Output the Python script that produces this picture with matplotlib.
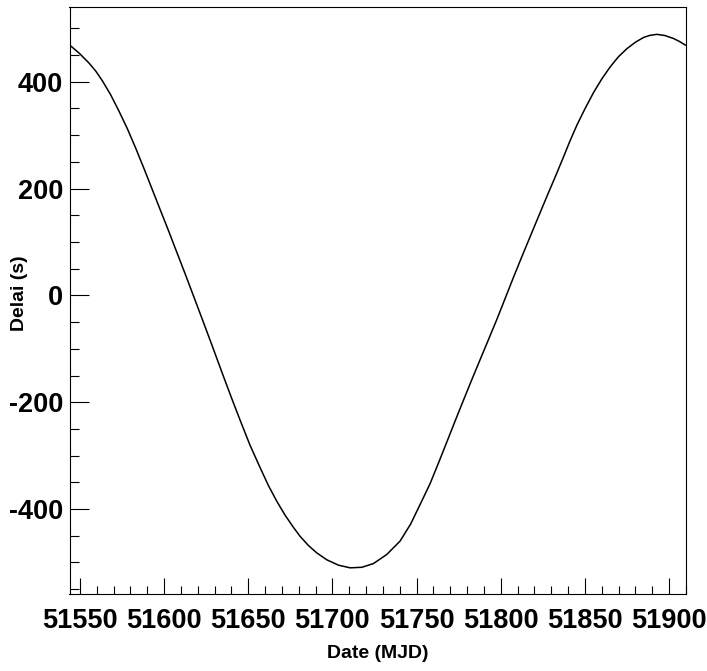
import numpy as np
import matplotlib
matplotlib.use("Agg")
import matplotlib.pyplot as plt
from matplotlib.ticker import MultipleLocator

# points (date in MJD, delay in s)
mjd = [51543.8, 51549.4, 51555.4, 51559.4, 51563.3, 51568.2, 51573.2, 51578.2,
       51583.1, 51588.0, 51593.0, 51598.0, 51602.9, 51607.9, 51612.8, 51617.6,
       51622.5, 51628.9, 51635.2, 51640.2, 51645.1, 51651.0, 51657.0, 51662.0,
       51666.9, 51671.8, 51676.8, 51680.8, 51685.7, 51690.7, 51696.7, 51703.6,
       51710.5, 51717.5, 51724.4, 51732.3, 51740.2, 51746.5, 51753.1, 51758.1,
       51763.0, 51767.8, 51772.8, 51777.9, 51782.8, 51787.8, 51792.7, 51797.7,
       51802.6, 51807.6, 51812.5, 51817.5, 51822.5, 51827.4, 51832.4, 51837.3,
       51841.0, 51845.3, 51850.0, 51855.2, 51860.0, 51865.1, 51870.0, 51875.0,
       51880.0, 51884.9, 51888.8, 51892.8, 51897.7, 51902.7, 51906.2, 51909.7]
delai = [469, 454, 435, 420, 402, 376, 345, 312,
         276, 238, 198, 158, 119, 78, 38, -2,
         -43, -97, -151, -193, -233, -280, -322, -356,
         -385, -411, -434, -451, -468, -482, -495, -505,
         -510, -509, -502, -485, -460, -428, -385, -352,
         -314, -276, -236, -196, -158, -120, -83, -45,
         -6, 34, 72, 110, 148, 185, 222, 259,
         288, 319, 349, 380, 405, 428, 447, 462,
         474, 483, 487, 488.8, 486.5, 481, 475.5, 468.7]

x_major = [51550, 51600, 51650, 51700, 51750, 51800, 51850, 51900]
y_major = [-400, -200, 0, 200, 400]

plt.rcParams['font.family'] = ['Liberation Sans', 'DejaVu Sans']
plt.rcParams['font.weight'] = 'bold'
plt.rcParams['axes.unicode_minus'] = False

fig = plt.figure(figsize=(7.07, 6.71), dpi=100)
ax = fig.add_axes([69.5 / 707, 77 / 671, (686 - 69.5) / 707, (594 - 7) / 671])

ax.plot(mjd, delai, color='black', linewidth=1.1)

ax.set_xlim(51543.8, 51910.1)
ax.set_ylim(-559, 540)

ax.set_xticks(x_major)
ax.set_yticks(y_major)
ax.xaxis.set_minor_locator(MultipleLocator(10))
ax.yaxis.set_minor_locator(MultipleLocator(50))

ax.tick_params(which='both', direction='in', top=False, right=False, width=0.8, color='black')
ax.tick_params(axis='x', which='major', length=16.5 * 0.72, pad=10)
ax.tick_params(axis='x', which='minor', length=8.3 * 0.72)
ax.tick_params(axis='y', which='major', length=18.7 * 0.72, pad=4.5)
ax.tick_params(axis='y', which='minor', length=9.3 * 0.72)
for lab in ax.get_xticklabels() + ax.get_yticklabels():
    lab.set_fontsize(19.5)
    lab.set_fontweight('bold')

for s in ax.spines.values():
    s.set_linewidth(0.8)

fig.text(377.75 / 707, 1 - 654 / 671, 'Date (MJD)', ha='center', va='center',
         fontsize=14, fontweight='bold')
fig.text(19.5 / 707, 1 - 293 / 671, 'Delai (s)', ha='center', va='center',
         rotation=90, fontsize=14, fontweight='bold')

fig.savefig('out.png', dpi=100)
